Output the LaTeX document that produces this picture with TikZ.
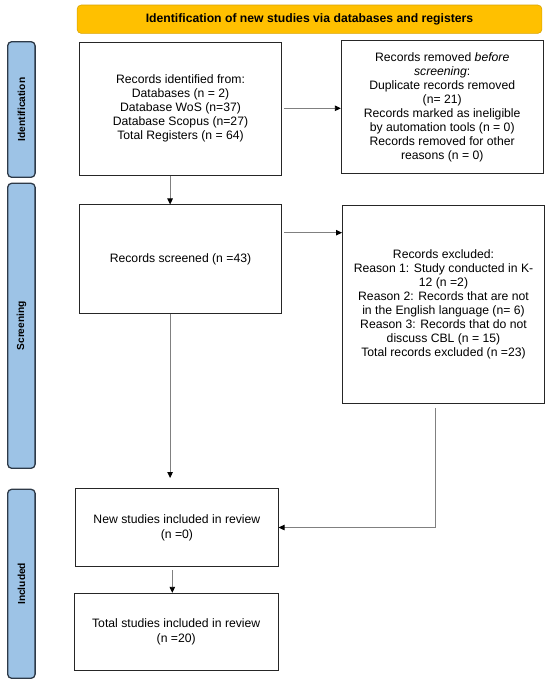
\documentclass[tikz,border=0pt]{standalone}
\usepackage{fontspec}
\setmainfont{Liberation Sans}
\usetikzlibrary{arrows.meta}
\definecolor{hdrfill}{HTML}{FFC000}
\definecolor{hdrdraw}{HTML}{D9A400}
\definecolor{sidefill}{HTML}{9DC3E6}
\definecolor{sidedraw}{HTML}{2E3A48}
\definecolor{connc}{HTML}{808080}
\definecolor{boxdraw}{HTML}{262626}
\begin{document}
\begin{tikzpicture}[x=1pt,y=-1pt,
  box/.style={draw=boxdraw, line width=1pt, inner sep=0pt, align=center,
    font=\fontsize{12.2}{14}\selectfont},
  boxwide/.style={box, font=\fontsize{12.2}{15}\selectfont},
  side/.style={draw=sidedraw, fill=sidefill, line width=1.3pt, rounded corners=4pt,
    inner sep=0pt, rotate=90, font=\fontsize{10.2}{12}\selectfont\bfseries},
  hdr/.style={draw=hdrdraw, fill=hdrfill, line width=0.6pt, rounded corners=4pt,
    inner sep=0pt, font=\fontsize{12.2}{14}\selectfont\bfseries},
  conn/.style={draw=connc, line width=0.8pt, -{Triangle[length=6pt,width=5.5pt,color=black]}}
]
\useasboundingbox (0,0) rectangle (550,684);
\fill[white] (0,0) rectangle (550,684);

\node[hdr, minimum width=464.7pt, minimum height=28.3pt] (hdr) at (309.5,19.2)
  {Identification of new studies via databases and registers};

\node[side, minimum width=135.6pt, minimum height=27.4pt] (s1) at (21.4,109.5) {Identification};
\node[side, minimum width=285pt, minimum height=27.4pt] (s2) at (21.4,325.8) {Screening};
\node[side, minimum width=189pt, minimum height=27.4pt] (s3) at (21.4,583.8) {Included};

\node[box, minimum width=201.7pt, minimum height=133pt] (b1) at (180.5,108.8)
  {Records identified from:\\ Databases (n = 2)\\ Database WoS (n=37)\\
   Database Scopus (n=27)\\ Total Registers (n = 64)};
\node[box, minimum width=201.7pt, minimum height=133.3pt] (b2) at (442.2,107.3)
  {Records removed \textit{before}\\ \textit{screening}:\\ Duplicate records removed\\
   (n= 21)\\ Records marked as ineligible\\ by automation tools (n = 0)\\
   Records removed for other\\ reasons (n = 0)};
\node[box, minimum width=202pt, minimum height=108pt] (b3) at (180.5,259)
  {Records screened (n =43)};
\node[box, minimum width=202pt, minimum height=198.3pt] (b4) at (443.5,304.2)
  {Records excluded:\\ Reason 1: Study conducted in K-\\ 12 (n =2)\\
   Reason 2: Records that are not\\ in the English language (n= 6)\\
   Reason 3: Records that do not\\ discuss CBL (n = 15)\\ Total records excluded (n =23)};
\node[boxwide, minimum width=202.3pt, minimum height=78pt] (b5) at (176.9,527.5)
  {New studies included in review\\ (n =0)};
\node[boxwide, minimum width=203.7pt, minimum height=76.7pt] (b6) at (176.2,631.7)
  {Total studies included in review\\ (n =20)};

\coordinate (y1) at (0,108.3);
\coordinate (x1) at (170.1,0);
\coordinate (y2) at (0,232.7);
\coordinate (e3) at (170.1,478);
\coordinate (s4) at (435.7,408.3);
\coordinate (x5) at (172.3,0);

\draw[conn, shorten <=2pt] (b1.east |- y1) -- (b2.west |- y1);
\draw[conn] (b1.south -| x1) -- (b3.north -| x1);
\draw[conn, shorten <=2pt] (b3.east |- y2) -- (b4.west |- y2);
\draw[conn] (b3.south -| x1) -- (e3);
\draw[conn] (s4) |- (b5.east);
\draw[conn, shorten <=3pt] (b5.south -| x5) -- (b6.north -| x5);
\end{tikzpicture}
\end{document}
